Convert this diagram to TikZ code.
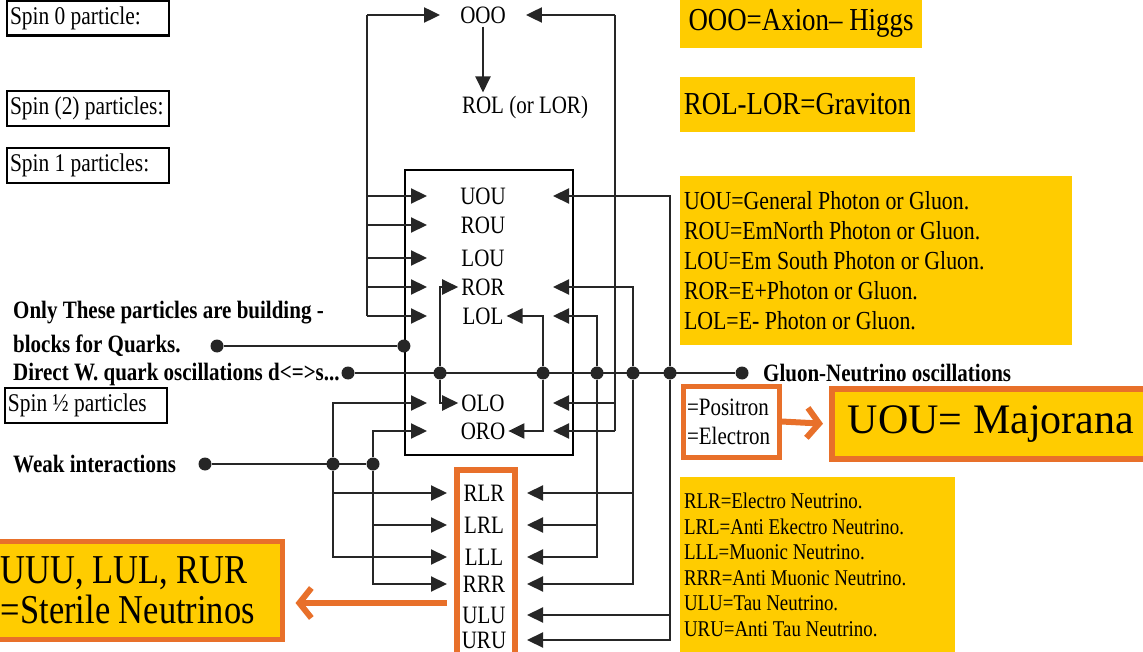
\documentclass[tikz,border=0pt]{standalone}
\usepackage{fontspec}
\setmainfont[FakeStretch=0.84]{Liberation Serif}
\newfontfamily\plainserif{Liberation Serif}
\usepackage{tikz}
\usetikzlibrary{arrows.meta}
\usepackage{xcolor}
\definecolor{gold}{HTML}{FFCC00}
\definecolor{burnt}{HTML}{E8702A}

\begin{document}
\begin{tikzpicture}[x=1pt, y=-1pt,
  wire/.style={line width=2.2pt, black!85},
  arr/.style={wire, -{Triangle[length=16pt, width=15pt]}},
  dot/.style={circle, fill=black!85, inner sep=0pt, minimum size=13pt},
  lbl/.style={font=\fontsize{25pt}{28pt}\selectfont, inner sep=3pt},
  bold/.style={font=\fontsize{25pt}{28pt}\selectfont\bfseries, anchor=west, inner sep=0pt},
  spinbox/.style={draw, line width=2.4pt, text width=156pt, inner xsep=3pt,
    minimum height=35pt, align=flush left, font=\fontsize{25.5pt}{28pt}\selectfont},
  note/.style={fill=gold, inner xsep=4pt, align=flush left},
  oline/.style={burnt, line width=6pt},
  oarr/.style={oline, -{Straight Barb[length=12pt, width=30pt]}}
]
  \useasboundingbox (0,0) rectangle (1143,652);

  % --- spin boxes on the left ---
  \node[spinbox] (spin0) at (88,18) {Spin 0 particle:};
  \node[spinbox] (spin2) at (88,108.5) {Spin (2) particles:};
  \node[spinbox] (spin1) at (88,165.5) {Spin 1 particles:};
  \node[spinbox] (spinhalf) at (86,405.5) {Spin ½ particles};

  % --- bold labels ---
  \node[bold] (quarks1) at (13,313) {Only These particles are building -};
  \node[bold] (quarks2) at (13,346) {blocks for Quarks.};
  \node[bold] (direct) at (13,374) {Direct W. quark oscillations d<=>s...};
  \node[bold] (weak) at (13,464) {Weak interactions};
  \node[bold] (gluon) at (763,373) {Gluon-Neutrino oscillations};

  % --- spin 0 and spin 2 ---
  \node[lbl, inner xsep=20pt] (OOO) at (483,15) {OOO};
  \node[lbl] (rol) at (525,107) {ROL (or LOR)};
  \draw[arr] (OOO.south) -- (OOO.south |- rol.north);

  % --- frame and rows ---
  \node[draw, line width=2.2pt, minimum width=168pt, minimum height=285pt] (gbox) at (489,312.5) {};
  \foreach \n/\y in {UOU/196, ROU/225, LOU/258, ROR/287, LOL/316, OLO/403, ORO/431} {
    \node[lbl] (\n) at (483,\y) {\n};
    \coordinate (\n-l) at (427,\y);
    \coordinate (\n-r) at (553,\y);
  }
  \foreach \n/\y in {RLR/493, LRL/525, LLL/557, RRR/584, ULU/615, URU/640} {
    \node[lbl] (\n) at (484,\y) {\n};
    \coordinate (\n-l) at (447,\y);
    \coordinate (\n-r) at (527,\y);
  }
  \node[draw=burnt, line width=6pt, minimum width=58pt, minimum height=190pt] (nbox) at (486,565) {};

  % --- outer buses ---
  \coordinate (busA) at (367,15);
  \coordinate (busB) at (615,15);
  \draw[wire] (busA) -- (busA |- LOL-l);
  \draw[arr] (busA) -- (OOO.west);
  \foreach \n in {UOU,ROU,LOU,ROR,LOL}
    \draw[arr] (busA |- \n-l) -- (\n-l);
  \draw[wire] (busB) -- (busB |- ORO-r);
  \draw[arr] (busB) -- (OOO.east);
  \foreach \n in {OLO,ORO}
    \draw[arr] (busB |- \n-r) -- (\n-r);

  % --- quark building blocks ---
  \node[dot] (dQ) at (217,346) {};
  \node[dot] (jQ) at (gbox.west |- dQ) {};
  \draw[wire] (dQ) -- (jQ);

  % --- oscillation line and its junctions ---
  \node[dot] (dW) at (348,373) {};
  \node[dot] (dGN) at (742,373) {};
  \draw[wire] (dW) -- (dGN);
  \foreach \j/\x in {jA/440, jB/543, jC/597, jD/633, jE/670}
    \node[dot] (\j) at (\x,373) {};
  \draw[arr] (jA) |- (ROR.west);
  \draw[arr] (jA) |- (OLO.west);
  \draw[arr] (jB) |- (LOL.east);
  \draw[arr] (jB) |- (ORO.east);
  \foreach \n in {LOL,LRL,LLL}
    \draw[arr] (jC) |- (\n-r);
  \foreach \n in {ROR,RLR,RRR}
    \draw[arr] (jD) |- (\n-r);
  \foreach \n in {UOU,ULU,URU}
    \draw[arr] (jE) |- (\n-r);

  % --- weak interactions ---
  \node[dot] (dWk) at (205,464) {};
  \node[dot] (jF) at (333,464) {};
  \node[dot] (jG) at (373,464) {};
  \draw[wire] (dWk) -- (jG);
  \foreach \n in {OLO,RLR,LLL}
    \draw[arr] (jF) |- (\n-l);
  \foreach \n in {ORO,LRL,RRR}
    \draw[arr] (jG) |- (\n-l);

  % --- yellow notes ---
  \node[note, minimum width=242pt, minimum height=50pt,
    font=\fontsize{32pt}{34pt}\selectfont] (axion) at (801,23) {OOO=Axion– Higgs};
  \node[note, minimum width=235pt, minimum height=55pt,
    font=\fontsize{32pt}{34pt}\selectfont] (graviton) at (797.5,104.5) {ROL-LOR=Graviton};
  \node[note, minimum width=392pt, minimum height=169pt, text width=384pt,
    font=\fontsize{26pt}{30pt}\selectfont] (spin1list) at (876,260.5)
    {UOU=General Photon or Gluon.\\ROU=EmNorth Photon or Gluon.\\LOU=Em South Photon or Gluon.\\ROR=E+Photon or Gluon.\\LOL=E- Photon or Gluon.};
  \node[note, minimum width=275pt, minimum height=176pt, text width=267pt,
    font=\fontsize{22.5pt}{25.5pt}\selectfont] (nulist) at (817.5,565)
    {RLR=Electro Neutrino.\\LRL=Anti Ekectro Neutrino.\\LLL=Muonic Neutrino.\\RRR=Anti Muonic Neutrino.\\ULU=Tau Neutrino.\\URU=Anti Tau Neutrino.};

  % --- orange call-outs ---
  \node[draw=burnt, line width=5pt, fill=white, minimum width=96pt, minimum height=71pt,
    text width=88pt, inner xsep=2pt, align=flush left, font=\fontsize{25pt}{29pt}\selectfont] (pbox) at (731,421.5)
    {=Positron\\=Electron};
  \node[fill=gold, draw=burnt, line width=6pt, minimum width=318pt, minimum height=70pt,
    font=\plainserif\fontsize{42pt}{44pt}\selectfont] (maj) at (991,424) {UOU= Majorana};
  \draw[oarr, shorten >=6pt] (pbox.east) -- (maj.west);

  \node[note, draw=burnt, line width=5pt, minimum width=292pt, minimum height=98pt, text width=270pt,
    inner xsep=11pt, font=\fontsize{41pt}{40pt}\selectfont] (sterile) at (136,590)
    {UUU, LUL, RUR\\=Sterile Neutrinos};
  \coordinate (sA) at (447,603);
  \draw[oarr, shorten >=11pt] (sA) -- (sterile.east |- sA);
\end{tikzpicture}
\end{document}
